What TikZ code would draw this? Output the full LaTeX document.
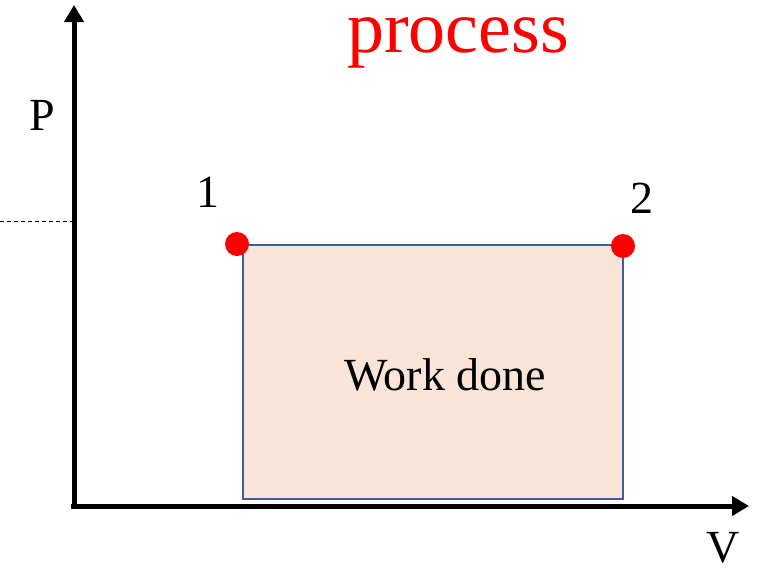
\documentclass[tikz,border=0pt]{standalone}
\usepackage{fontspec}
\setmainfont{Liberation Serif}
\usetikzlibrary{arrows.meta}
\definecolor{areafill}{HTML}{FAE4D8}
\definecolor{areaedge}{HTML}{3A5FA0}
\definecolor{procred}{HTML}{FF0000}
\tikzset{
  axisline/.style={line width=5pt, -{Triangle[width=19pt,length=17pt]}},
  statedot/.style={circle, fill=procred, draw=none, minimum size=24pt, inner sep=0pt},
  lbl/.style={anchor=base, inner sep=0pt, font=\fontsize{46}{50}\selectfont},
  guide/.style={line width=0.8pt, dash pattern=on 4pt off 3pt}
}
\begin{document}
\begin{tikzpicture}[x=1pt,y=-1pt]
\useasboundingbox (0,0) rectangle (757,570);
% area rectangle
\node[draw=areaedge, fill=areafill, line width=1.8pt, minimum width=380pt, minimum height=254pt, inner sep=0pt, anchor=north west] (area) at (242,244) {};
% axes
\coordinate (origin) at (74,506);
\coordinate (ytip) at (74,5);
\coordinate (xtip) at (749,506);
\coordinate (ystart) at (74,509);
\coordinate (xstart) at (71,506);
\draw[axisline] (ystart) -- (ytip);
\draw[axisline] (xstart) -- (xtip);
% dashed guide
\coordinate (gstart) at (0,221);
\coordinate (gend) at (72,221);
\draw[guide] (gstart) -- (gend);
% state points
\node[statedot] (s1) at (237,244) {};
\node[statedot] (s2) at (623,246) {};
% labels
\node[lbl] (plabel) at (42,130) {P};
\node[lbl] (vlabel) at (723,562) {V};
\node[lbl] (n1) at (208,207) {1};
\node[lbl] (n2) at (642,213) {2};
\node[lbl] (work) at (445,390) {Work done};
\node[anchor=base, inner sep=0pt, text=procred, font=\fontsize{74}{80}\selectfont] (title) at (458,52) {process};
\end{tikzpicture}
\end{document}
